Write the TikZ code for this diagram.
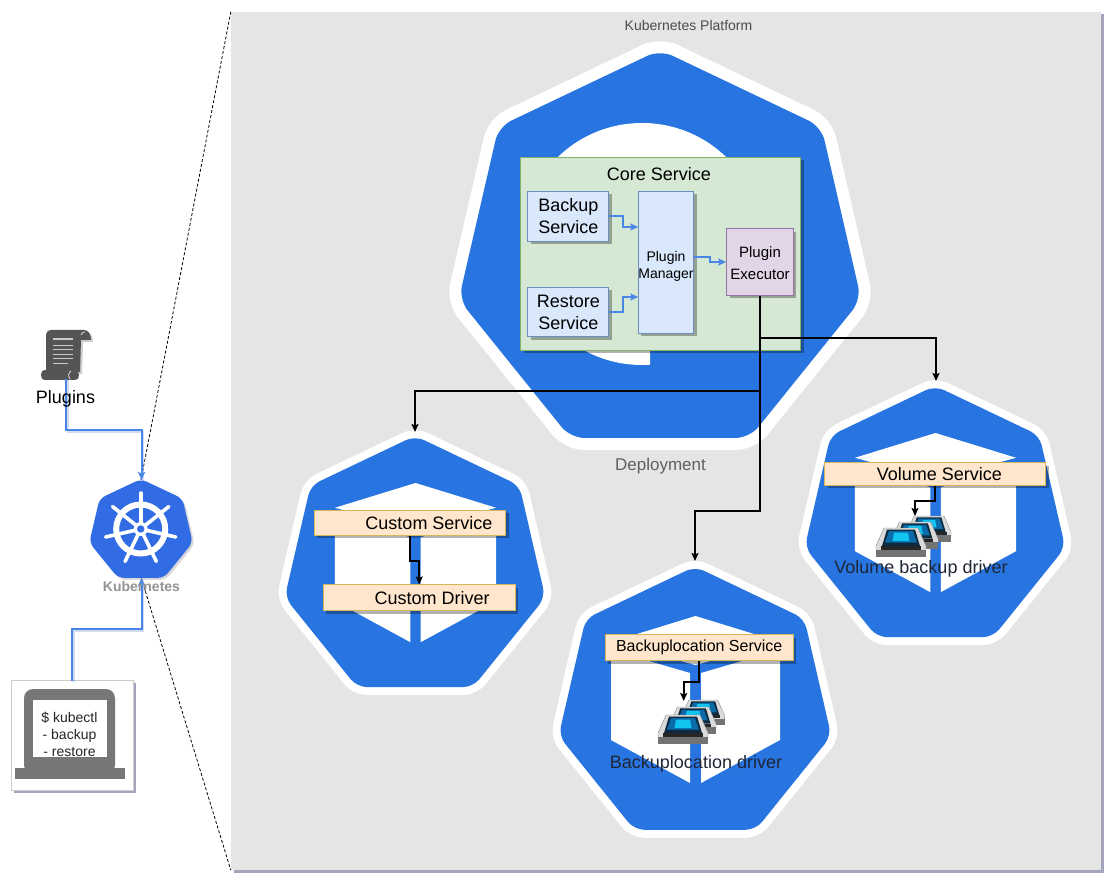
\documentclass[tikz,border=0pt]{standalone}
\usepackage{fontspec}
\setmainfont{Liberation Sans}
\usetikzlibrary{arrows.meta,shadows,calc}
\definecolor{kblue}{HTML}{2875E2}
\definecolor{klogo}{HTML}{326CE5}
\definecolor{conn}{HTML}{4A86E8}
\definecolor{panelgray}{HTML}{E5E5E5}
\definecolor{panelshadow}{HTML}{A4A4BC}
\definecolor{iconGray}{HTML}{777777}
\definecolor{scrollGray}{HTML}{555555}
\definecolor{drivertext}{HTML}{1E2636}
\definecolor{HTMLblue}{HTML}{6C8EBF}
\definecolor{HTMLbluefill}{HTML}{DAE8FC}
\definecolor{HTMLpurple}{HTML}{9673A6}
\definecolor{HTMLpurplefill}{HTML}{E1D5E7}
\definecolor{HTMLgreen}{HTML}{82B366}
\definecolor{HTMLgreenfill}{HTML}{D5E8D4}
\definecolor{HTMLorange}{HTML}{D6B656}
\definecolor{HTMLorangefill}{HTML}{FFE6CC}
\definecolor{screenDark}{HTML}{0E2A3E}
\definecolor{screenMid}{HTML}{0B6AA8}
\definecolor{screenCyan}{HTML}{12C4F0}
% heptagon path: cx cy Rx Ry
\newcommand{\heptpath}[4]{({#1}, {#2-#4}) -- ({#1+0.7818*#3}, {#2-0.6235*#4}) -- ({#1+0.9749*#3}, {#2+0.2225*#4}) -- ({#1+0.4339*#3}, {#2+0.9010*#4}) -- ({#1-0.4339*#3}, {#2+0.9010*#4}) -- ({#1-0.9749*#3}, {#2+0.2225*#4}) -- ({#1-0.7818*#3}, {#2-0.6235*#4}) -- cycle}
% cx cy Rx Ry whitewidth corner
\newcommand{\badge}[6]{%
  \draw[white,fill=white,line width=#5pt,line join=round,rounded corners=#6pt] \heptpath{#1}{#2}{#3}{#4};
  \fill[kblue,rounded corners=#6pt] \heptpath{#1}{#2}{#3}{#4};}
% cube icon: cx top scale
\newcommand{\cubeicon}[3]{%
  \begin{scope}[shift={(#1,#2)},scale=#3]
    \fill[white] (0,0) -- (84.5,26) -- (0,49) -- (-84.5,26) -- cycle;
    \fill[white] (-84.5,34) -- (-5.5,57) -- (-5.5,167) -- (-84.5,124) -- cycle;
    \fill[white] (84.5,34) -- (5.5,57) -- (5.5,167) -- (84.5,124) -- cycle;
  \end{scope}}
% disk device: x y scale
\newcommand{\device}[3]{%
  \begin{scope}[shift={(#1,#2)},scale=#3]
    \fill[black!50] (0,19) -- (50,19) -- (50,29) -- (0,29) -- cycle;
    \draw[black!45,fill=black!14,line width=.4pt,line join=round] (8,0) -- (42,0) -- (50,18) -- (50,23) -- (0,23) -- (0,18) -- cycle;
    \fill[screenDark] (11,1.5) -- (39,1.5) -- (44,18) -- (6,18) -- cycle;
    \fill[screenMid] (13,3) -- (37,3) -- (41,14.5) -- (9,14.5) -- cycle;
    \fill[screenCyan] (18,4.5) -- (32,4.5) -- (33.5,13) -- (16.5,13) -- cycle;
    \fill[black!85] (5,18) rectangle (45,21.5);
    \fill[black!55] (0,22) rectangle (50,29);
  \end{scope}}
\tikzset{
  x=1pt,y=-1pt,
  softshadow/.style={drop shadow={shadow xshift=3pt,shadow yshift=-3pt,fill=black,opacity=.3}},
  panelbox/.style={draw=none,fill=panelgray,inner sep=0pt,minimum width=870pt,minimum height=858pt,drop shadow={shadow xshift=2.5pt,shadow yshift=-2.5pt,fill=panelshadow,opacity=1}},
  corebox/.style={draw=#1,line width=1pt,inner sep=0pt,align=center,softshadow},
  bluebox/.style={corebox=HTMLblue,fill=HTMLbluefill},
  purplebox/.style={corebox=HTMLpurple,fill=HTMLpurplefill},
  greenbox/.style={corebox=HTMLgreen,fill=HTMLgreenfill},
  orangebox/.style={corebox=HTMLorange,fill=HTMLorangefill},
  flowline/.style={conn,line width=2pt,-{Stealth[length=8pt,width=7pt,inset=1.5pt]}},
  coreline/.style={black,line width=2pt,-{Stealth[length=8pt,width=7pt,inset=1.5pt]}},
  callout/.style={black,line width=.8pt,dash pattern=on 3pt off 2pt},
  lbl/.style={inner sep=0pt,align=center},
  big/.style={font=\fontsize{18}{22}\selectfont},
  mid/.style={font=\fontsize{16}{20}\selectfont},
  small/.style={font=\fontsize{14}{17}\selectfont},
}
\begin{document}
\begin{tikzpicture}
\useasboundingbox (0,0) rectangle (1119,890);
\fill[white] (0,0) rectangle (1119,890);

% platform panel
\node[panelbox] (platform) at (666,441) {};
\node[lbl,small,text=black!70] (platformlabel) at (688.5,25.5) {Kubernetes Platform};

% kubernetes logo
\coordinate (logotop) at (141,480);
\coordinate (logobottom) at (141,577);
\draw[callout] (platform.north west) -- (logotop);
\draw[callout] (logobottom) -- (platform.south west);
\fill[klogo,rounded corners=6pt,drop shadow={shadow xshift=2pt,shadow yshift=-2pt,fill=black,opacity=.15}] \heptpath{141}{531}{53}{52};
\begin{scope}[shift={(140.7,529)}]
  \draw[white,line width=6pt] (0,0) circle (24.5);
  \foreach \a in {-90,-38.57,12.86,64.29,115.71,167.14,218.57}
    \draw[white,line width=3.6pt,line cap=round] (\a:4) -- (\a:36);
  \fill[white] (0,0) circle (7);
  \fill[klogo] (0,0) circle (3.7);
\end{scope}

% plugins scroll
\coordinate (scrollbottom) at (66,379);
\fill[scrollGray,drop shadow={shadow xshift=2pt,shadow yshift=-2pt,fill=black,opacity=.2}] (46,372) -- (46,336) .. controls (46,332) and (48,330) .. (52,330) -- (84,330) .. controls (89,330) and (91,335) .. (91,340) -- (81,340) -- (80,372) -- cycle;
\fill[scrollGray] (46,370) -- (74,370) .. controls (78,370) and (79,373) .. (79,375) .. controls (79,378) and (78,380) .. (75,380) -- (46,380) .. controls (42,380) and (41,378) .. (41,375) .. controls (41,372) and (42,370) .. (46,370) -- cycle;
\draw[white!70!gray,line width=.8pt] (70,379) .. controls (68,376) and (68,373) .. (71,371);
\draw[white!70!gray,line width=.8pt] (81,335) .. controls (82,332) and (84,332) .. (85,332);
\draw[black!20,line width=1.6pt] (53,339) -- (73,339);
\draw[black!20,line width=.9pt] (53,345) -- (73,345) (53,349.5) -- (73,349.5) (53,354) -- (73,354) (53,358.5) -- (73,358.5);
\draw[black!20,line width=.9pt] (53,363) -- (68,363);

% kubectl terminal
\node[draw=black!20,fill=white,line width=.8pt,minimum width=122pt,minimum height=110pt,inner sep=0pt,drop shadow={shadow xshift=2.5pt,shadow yshift=-2.5pt,fill=panelshadow,opacity=1}] (terminal) at (72,735.7) {};
\fill[iconGray,rounded corners=9pt] (24,689) rectangle (115,774);
\fill[iconGray] (15,768) rectangle (124.7,779);
\fill[white] (32.7,700) rectangle (106.7,756.7);
\node[lbl,small,text=black!85] (cli) at (69.5,734) {\$ kubectl\\- backup\\- restore};

% connectors on the left
\coordinate (terminaltop) at (72,680.7);
\coordinate (logobot) at (141.5,578);
\coordinate (logotip) at (141.5,480);
\draw[conn!85!black,opacity=.25,line width=2pt,transform canvas={shift={(1.5pt,-1.5pt)}}] (scrollbottom) |- (logotip |- 0,430) -- (logotip);
\draw[flowline] (scrollbottom) |- (logotip |- 0,430) -- (logotip);
\draw[conn!85!black,opacity=.25,line width=2pt,transform canvas={shift={(1.5pt,-1.5pt)}}] (terminaltop) |- (logobot |- 0,629) -- (logobot);
\draw[flowline] (terminaltop) |- (logobot |- 0,629) -- (logobot);
\node[lbl,big] (pluginslabel) at (65.5,398.5) {Plugins};
\node[lbl,small,text=black!42] (k8slabel) at (141.5,586) {\bfseries Kubernetes};

% deployment badge
\badge{660}{254}{206.4}{204.2}{24}{14}
\begin{scope}
  \clip (500,100) -- (800,100) -- (800,350) -- (650,350) -- (650,380) -- (500,380) -- cycle;
  \fill[white] (642,244) circle (121);
\end{scope}
\node[lbl,text=black!62,font=\fontsize{17}{20}\selectfont] (deploylabel) at (660.5,466.5) {Deployment};

% volume badge
\badge{935}{518}{133.6}{132.2}{16}{10}
\cubeicon{935.5}{433}{0.953}
% custom badge
\badge{415}{568}{133.6}{132.2}{16}{10}
\cubeicon{415.5}{483}{0.953}
% backuplocation badge
\badge{695}{705}{139.8}{138.5}{16}{10}
\cubeicon{695.5}{616}{1}

% core service
\node[greenbox,minimum width=280pt,minimum height=192.7pt] (core) at (660.7,253.7) {};
\node[lbl,big] (coretitle) at (659,174) {Core Service};
\node[bluebox,big,minimum width=81.3pt,minimum height=50.3pt] (backup) at (568.3,216.2) {Backup\\Service};
\node[bluebox,big,minimum width=81.3pt,minimum height=49.4pt] (restore) at (568.3,312) {Restore\\Service};
\node[bluebox,small,minimum width=55.4pt,minimum height=142.3pt] (manager) at (666,262.2) {\rule{0pt}{18pt}Plugin\\Manager};
\node[purplebox,font=\fontsize{15}{22}\selectfont,minimum width=66.6pt,minimum height=66.6pt] (executor) at (760,262) {\rule{0pt}{13pt}Plugin\\Executor};

\coordinate (mgrin1) at (638.3,227);
\coordinate (mgrin2) at (638.3,297);
\coordinate (mgrout) at (693.7,257.5);
\draw[flowline] (backup.east) -- ++(14,0) |- (mgrin1);
\draw[flowline] (restore.east) -- ++(14,0) |- (mgrin2);
\draw[flowline] (mgrout) -- (710,257.5) |- (executor.west);

% service boxes
\node[orangebox,big,minimum width=220.7pt,minimum height=22.6pt] (volsvc) at (935.3,474) {\hspace*{8pt}Volume Service};
\node[orangebox,big,minimum width=191.4pt,minimum height=25.3pt] (custsvc) at (410,522.7) {\hspace*{38pt}Custom Service};
\node[orangebox,big,minimum width=191.7pt,minimum height=25.7pt] (custdrv) at (419.2,597.8) {\hspace*{26pt}Custom Driver};
\node[orangebox,mid,minimum width=188.3pt,minimum height=26pt] (baksvc) at (699.2,647.5) {Backuplocation Service};

% drivers
\device{907}{516}{0.88}
\device{892}{522}{0.92}
\device{876}{528}{1}
\device{682}{700}{0.85}
\device{670}{707}{0.92}
\device{658}{715}{1}
\coordinate (voldrivertop) at (915,516);
\coordinate (bakdrivertop) at (683.7,701);
\draw[coreline] (volsvc.south) -- ++(0,15.5) -| (voldrivertop);
\draw[coreline] (baksvc.south) -- ++(0,20.7) -| (bakdrivertop);
\draw[coreline] (custsvc.south) -- ++(0,25) -| (custdrv.north);
\node[lbl,big,text=drivertext] (voldrvlabel) at (921,569) {Volume backup driver};
\node[lbl,big,text=drivertext] (bakdrvlabel) at (696,764) {Backuplocation driver};

% main black connectors
\coordinate (voltop) at (936,381);
\coordinate (custtop) at (415,432);
\coordinate (baktop) at (695,561);
\draw[coreline] (executor.south) -- (760,511) -| (baktop);
\draw[coreline] (760,338) -| (voltop);
\draw[coreline] (760,391) -| (custtop);
\end{tikzpicture}
\end{document}
